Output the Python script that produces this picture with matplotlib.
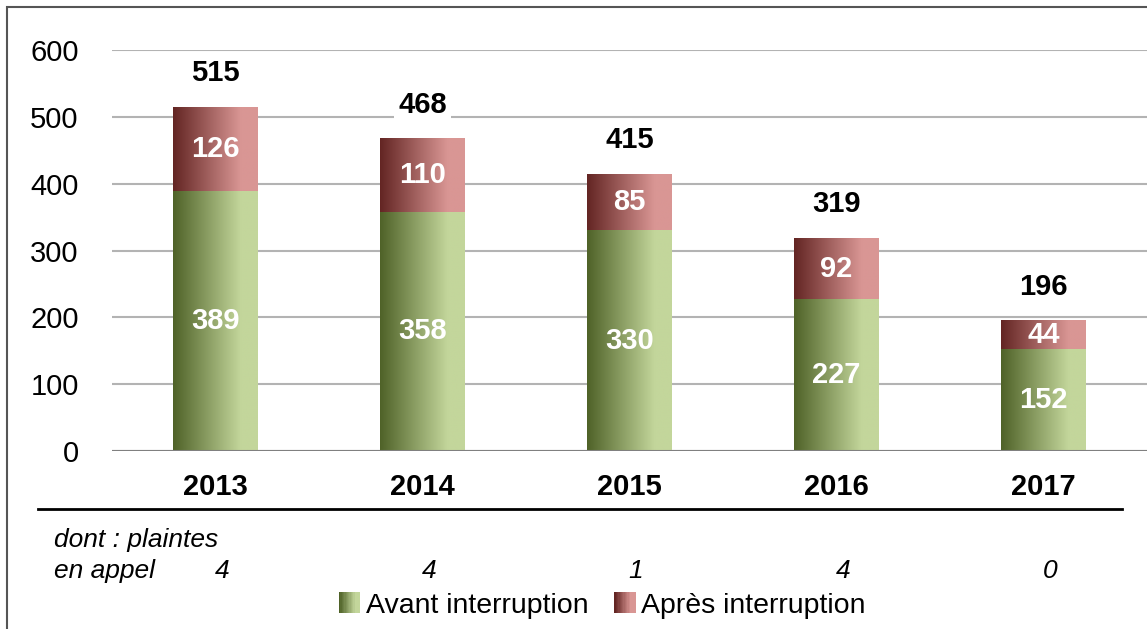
import numpy as np
import matplotlib
matplotlib.use("Agg")
import matplotlib.pyplot as plt
from matplotlib.colors import LinearSegmentedColormap
from matplotlib.patches import Rectangle
from matplotlib.legend_handler import HandlerBase

plt.rcParams['font.family'] = ['Liberation Sans', 'DejaVu Sans']

# data
years = ['2013', '2014', '2015', '2016', '2017']
avant = [389, 358, 330, 227, 152]
apres = [126, 110, 85, 92, 44]
appel = ['4', '4', '1', '4', '0']

green_cmap = LinearSegmentedColormap.from_list('g', ['#4f6228', '#c3d69b'])
red_cmap = LinearSegmentedColormap.from_list('r', ['#632523', '#d99694'])

# horizontal gradient, dark left -> light towards the right
grad = np.clip(np.linspace(0, 1, 256) / 0.8, 0, 1).reshape(1, -1)

fig = plt.figure(figsize=(11.47, 6.29), dpi=100)
ax = fig.add_axes([112 / 1147, 1 - 451 / 629, 1 - 112 / 1147, (451 - 50) / 629])

x = np.arange(len(years))
totals = [a + b for a, b in zip(avant, apres)]

bars_a = ax.bar(x, avant, width=0.41, color='none', zorder=3)
bars_b = ax.bar(x, apres, bottom=avant, width=0.41, color='none', zorder=3)

for bars, cmap in [(bars_a, green_cmap), (bars_b, red_cmap)]:
    for p in bars:
        x0, y0 = p.get_x(), p.get_y()
        im = ax.imshow(grad, cmap=cmap, vmin=0, vmax=1, aspect='auto',
                       extent=[x0, x0 + p.get_width(), y0, y0 + p.get_height()],
                       zorder=3, interpolation='bilinear')
        im.set_clip_path(p)

ax.set_xlim(-0.5, len(years) - 0.5)
ax.set_ylim(0, 600)
ax.set_yticks(range(0, 601, 100))
ax.yaxis.grid(True, color='#b3b3b3', linewidth=1.5, zorder=0)
ax.set_axisbelow(True)
for s in ax.spines.values():
    s.set_visible(False)
ax.axhline(0, color='#808080', linewidth=1.5, zorder=4)
ax.tick_params(axis='y', length=0, labelsize=21, pad=24)
ax.set_xticks(x)
ax.set_xticklabels(years, fontweight='bold', fontsize=21)
ax.tick_params(axis='x', length=0, pad=16)

# labels inside segments and totals on top
for i in x:
    ax.text(i, avant[i] / 2, str(avant[i]), ha='center', va='center',
            color='white', fontweight='bold', fontsize=21, zorder=5)
    ax.text(i, avant[i] + apres[i] / 2, str(apres[i]), ha='center', va='center',
            color='white', fontweight='bold', fontsize=21, zorder=5)
    ax.annotate(str(totals[i]), (i, totals[i]), xytext=(0, 24), textcoords='offset points',
                ha='center', va='center', fontweight='bold', fontsize=21, zorder=5,
                bbox=dict(facecolor='white', edgecolor='none', pad=3))

# line under the years
fig.add_artist(plt.Line2D([38 / 1147, 1122 / 1147], [1 - 509 / 629] * 2,
                          color='black', linewidth=2))

# appeal row
fig.text(54 / 1147, 1 - 540 / 629, 'dont : plaintes', fontsize=19, style='italic',
         ha='left', va='center')
fig.text(54 / 1147, 1 - 571 / 629, 'en appel', fontsize=19, style='italic',
         ha='left', va='center')
trans = matplotlib.transforms.blended_transform_factory(ax.transData, fig.transFigure)
for i, v in enumerate(appel):
    fig.text(i + 0.03, 1 - 571 / 629, v, transform=trans, fontsize=19,
             style='italic', ha='center', va='center')


# gradient squares for the legend
class GradHandler(HandlerBase):
    def __init__(self, cmap):
        super().__init__()
        self.cmap = cmap

    def create_artists(self, legend, orig_handle, xdescent, ydescent,
                       width, height, fontsize, trans):
        n = 16
        side = height * 1.05
        arts = []
        for k in range(n):
            c = self.cmap(min(1.0, k / (n - 1) / 0.8))
            r = Rectangle((-xdescent + width - side + side * k / n, -ydescent),
                          side / n * 1.3, side, facecolor=c, edgecolor='none',
                          transform=trans)
            arts.append(r)
        return arts


h1 = Rectangle((0, 0), 1, 1)
h2 = Rectangle((0, 0), 1, 1)
fig.legend([h1, h2], ['Avant interruption', 'Après interruption'],
           handler_map={h1: GradHandler(green_cmap), h2: GradHandler(red_cmap)},
           loc='center', bbox_to_anchor=(602 / 1147, 1 - 606 / 629), ncol=2,
           frameon=False, fontsize=20.5, handlelength=0.75, handletextpad=0.2,
           columnspacing=0.9)

# outer frame
fig.add_artist(Rectangle((7 / 1147, -0.1), 1.2, 1 - 7 / 629 + 0.1,
                         transform=fig.transFigure, fill=False,
                         edgecolor='#555555', linewidth=1.5))

fig.savefig('out.png', dpi=100)
